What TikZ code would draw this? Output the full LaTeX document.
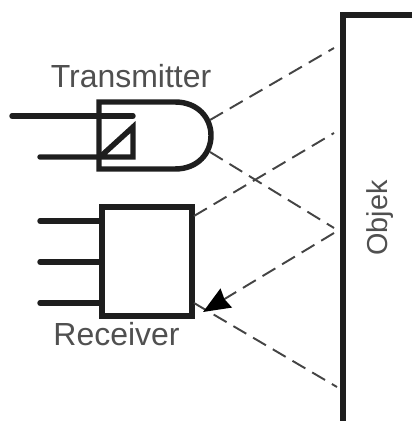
\documentclass[tikz,border=0pt]{standalone}
\usepackage{fontspec}
\setmainfont{Liberation Sans}
\usetikzlibrary{arrows.meta}
\definecolor{labelgray}{HTML}{505050}
\definecolor{linedark}{HTML}{1E1E1E}
\tikzset{
    wire/.style={draw=linedark, line width=3.1pt, line cap=round, line join=miter},
    beam/.style={draw=labelgray!85!black, line width=1.1pt, dash pattern=on 8.5pt off 4.5pt},
    arrow/.style={-{Stealth[length=5.4mm, width=4.4mm, inset=0.4mm, color=black]}},
    label/.style={text=labelgray, inner sep=0pt, font=\fontsize{18.2}{20}\selectfont}
}

\begin{document}
\begin{tikzpicture}[x=0.02cm, y=-0.02cm]
\useasboundingbox (0,0) rectangle (412,421);
\node[label] (txlabel) at (131,76) {Transmitter};
\node[label] (rxlabel) at (116.5,334) {Receiver};
\node[label, font=\fontsize{16.4}{18}\selectfont, rotate=90] (objek) at (380,218) {Objek};
% receiver box
\node[wire, rectangle, minimum width=1.8cm, minimum height=2.18cm, inner sep=0pt] (rx) at (147,261.5) {};
\coordinate (rxa) at (40,221);
\coordinate (rxb) at (40,262);
\coordinate (rxc) at (40,303);
\draw[wire] (rxa) -- (rxa -| rx.west);
\draw[wire] (rxb) -- (rxb -| rx.west);
\draw[wire] (rxc) -- (rxc -| rx.west);
% transmitter
\coordinate (txa) at (12,116);
\coordinate (txb) at (40,157);
\coordinate (txc) at (133,116);
\coordinate (txd) at (133,157);
\coordinate (txe) at (133,127);
\coordinate (txf) at (100,157);
\draw[wire] (99,102) -- (175,102) .. controls (198,102) and (211,118) .. (211,135.5) .. controls (211,153) and (198,169) .. (175,169) -- (99,169) -- cycle;
\draw[wire] (txa) -- (txc);
\draw[wire] (txb) -- (txd) -- (txe) -- (txf);
% object wall
\coordinate (walla) at (412,15);
\coordinate (wallb) at (343,15);
\coordinate (wallc) at (343,421);
\draw[wire, line cap=butt] (walla) -- (wallb) -- (wallc);
% beams
\coordinate (txout) at (210,120);
\coordinate (txdown) at (210,152);
\coordinate (hita) at (334,48);
\coordinate (hitb) at (334,133);
\coordinate (hitc) at (334,228);
\coordinate (hitd) at (334,233);
\coordinate (hite) at (337,387);
\coordinate (rxtop) at (194,216);
\coordinate (rxlow) at (194,303);
\coordinate (rxtip) at (203,312);
\draw[beam] (txout) -- (hita);
\draw[beam] (txdown) -- (hitc);
\draw[beam] (rxtop) -- (hitb);
\draw[beam] (rxlow) -- (hite);
\draw[beam, arrow] (hitd) -- (rxtip);
\end{tikzpicture}
\end{document}
